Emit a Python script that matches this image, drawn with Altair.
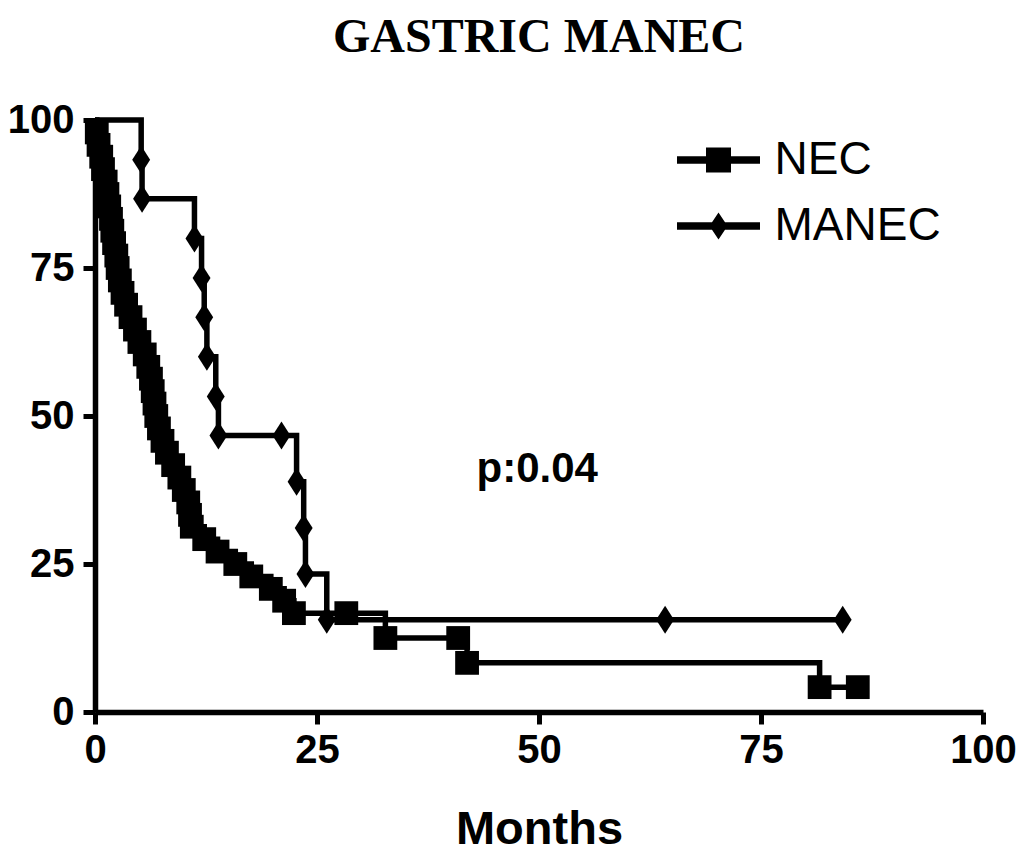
import altair as alt
import pandas as pd

# ---------------- data ----------------
GROUPS = ["NEC", "MANEC"]

NEC_MONTHS = [0, 0.2, 0.4, 0.7, 0.9, 1.2, 1.4, 1.6, 1.8, 1.95, 2.15, 2.4, 2.55, 2.8,
              3.1, 3.5, 4.0, 4.5, 5.0, 5.6, 6.0, 6.3, 6.5, 6.7, 6.9, 7.2, 7.6, 8.1,
              8.8, 9.5, 10.0, 10.5, 10.7, 10.9, 12.3, 13.8, 15.8, 17.6, 19.8, 21.3,
              22.4, 28.3, 32.7, 40.9, 41.9, 81.6, 85.9]
NEC_SURV = [100, 97.9, 95.8, 93.8, 91.7, 89.6, 87.5, 85.4, 83.3, 81.3, 79.2, 77.1, 75.0,
            72.9, 70.8, 68.8, 66.7, 64.6, 62.5, 60.4, 58.3, 56.3, 54.2, 52.1, 50.0, 47.9,
            45.8, 43.8, 41.7, 39.6, 37.5, 35.4, 33.3, 31.3, 29.2, 27.1, 25.0, 22.9, 20.8,
            18.8, 16.7, 16.7, 12.5, 12.5, 8.3, 4.2, 4.2]

MANEC_MONTHS = [0, 5.2, 5.3, 11.2, 12.0, 12.3, 12.6, 13.6, 13.9, 21.0, 22.7, 23.5, 23.7,
                26.1, 64.2, 84.2]
MANEC_SURV = [100, 93.3, 86.7, 80.0, 73.3, 66.7, 60.0, 53.3, 46.7, 46.7, 38.9, 31.1, 23.3,
              15.6, 15.6, 15.6]

X_TICKS = [0, 25, 50, 75, 100]
Y_TICKS = [0, 25, 50, 75, 100]
TITLE = "GASTRIC MANEC"
X_TITLE = "Months"
P_TEXT = ["p:0.04"]
P_MONTH = [49.8]
P_SURV = [41]

# ---------------- build table ----------------
rows = []
for g, ts, ss in [("NEC", NEC_MONTHS, NEC_SURV), ("MANEC", MANEC_MONTHS, MANEC_SURV)]:
    for i, (t, s) in enumerate(zip(ts, ss)):
        rows.append({"group": g, "t": t, "s": s, "idx": i})
df = pd.DataFrame(rows)
ptxt_df = pd.DataFrame({"t": P_MONTH, "s": P_SURV, "label": P_TEXT})

# symbol paths
SQ = "M-0.85,-0.85H0.85V0.85H-0.85Z"
DI = "M0,-1L0.64,0L0,1L-0.64,0Z"
LEG_SQ = "M-1.66,-0.15H1.66V0.15H-1.66Z M-0.5,-0.5H0.5V0.5H-0.5Z"
LEG_DI = "M-1.66,-0.15H1.66V0.15H-1.66Z M0,-0.54L0.36,0L0,0.54L-0.36,0Z"

x_enc = alt.X("t:Q", scale=alt.Scale(domain=[0, 100], nice=False),
              axis=alt.Axis(values=X_TICKS, title=X_TITLE, titlePadding=36,
                            labelPadding=6))
y_enc = alt.Y("s:Q", scale=alt.Scale(domain=[0, 100], nice=False),
              axis=alt.Axis(values=Y_TICKS, title=None, labelPadding=9))

lines = alt.Chart(df).mark_line(
    interpolate="step-after", color="black", strokeWidth=5.5
).encode(x=x_enc, y=y_enc, detail="group:N")

pts = alt.Chart(df).transform_filter("datum.idx > 0").mark_point(
    filled=True, color="black", size=784, opacity=1, strokeWidth=0
).encode(
    x=x_enc, y=y_enc,
    shape=alt.Shape("group:N", scale=alt.Scale(domain=GROUPS, range=[SQ, DI]), legend=None),
)

leg = alt.Chart(df).mark_point(filled=True, color="black", opacity=0).encode(
    x=x_enc, y=y_enc,
    shape=alt.Shape(
        "group:N",
        scale=alt.Scale(domain=GROUPS, range=[LEG_SQ, LEG_DI]),
        legend=alt.Legend(
            title=None, orient="none", legendX=598.5, legendY=15,
            symbolSize=2500, symbolOpacity=1, symbolFillColor="black",
            symbolStrokeWidth=0, labelFont="Liberation Sans", labelFontSize=46,
            labelColor="black", labelLimit=400, labelOffset=31, rowPadding=18,
            padding=0,
        ),
    ),
)

ptxt = alt.Chart(ptxt_df).mark_text(
    font="Liberation Sans", fontSize=42, fontWeight="bold", color="black",
    align="center", baseline="middle"
).encode(x=x_enc, y=y_enc, text="label:N")

chart = alt.layer(lines, pts, leg, ptxt).resolve_scale(shape="independent").properties(
    width=888, height=592,
    title=alt.TitleParams(TITLE, font="Liberation Serif", fontSize=48, fontWeight="bold",
                          color="black", anchor="middle", frame="group", offset=38),
    padding={"left": 87, "top": 112, "right": 33, "bottom": 141},
    autosize=alt.AutoSizeParams(type="none"),
).configure_view(stroke="transparent").configure_axis(
    domainColor="black", domainWidth=5.5, tickColor="black", tickWidth=5, tickSize=12,
    labelFont="Liberation Sans", labelFontSize=40, labelFontWeight="bold",
    labelColor="black", grid=False, titleFont="Liberation Sans", titleFontSize=47,
    titleFontWeight="bold", titleColor="black", labelFlush=False, labelOverlap=False,
)

chart.save("out.html", embed_options={"renderer": "svg", "actions": False})
